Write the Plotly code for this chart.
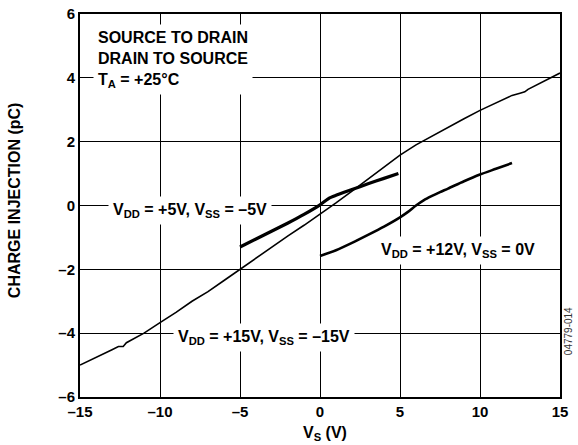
import plotly.graph_objects as go

# ---- data ----
vs_15 = [-15, -14, -13, -12.6, -12.3, -12.1, -11.5, -11, -10, -9, -8, -7, -6, -5, -4, -3, -2, -1,
         0, 1, 2, 3, 4, 5, 6, 7, 8, 9, 10, 11, 12, 12.5, 12.8, 13, 14, 15]
q_15 = [-5.0, -4.77, -4.52, -4.42, -4.42, -4.3, -4.15, -4.0, -3.67, -3.35, -3.0, -2.7, -2.35, -2.0,
        -1.63, -1.28, -0.95, -0.62, -0.28, 0.08, 0.45, 0.82, 1.2, 1.58, 1.9, 2.18, 2.44, 2.72,
        2.98, 3.22, 3.45, 3.52, 3.56, 3.64, 3.9, 4.15]

vs_5 = [-5, -4, -3, -2, -1, 0, 0.6, 1, 2, 3, 4, 4.9]
q_5 = [-1.3, -1.05, -0.8, -0.55, -0.28, 0.02, 0.24, 0.32, 0.5, 0.68, 0.85, 1.0]

vs_12 = [0, 1, 2, 3, 4, 5, 5.5, 6, 6.5, 7, 7.5, 8, 9, 10, 11, 12]
q_12 = [-1.58, -1.4, -1.17, -0.92, -0.66, -0.37, -0.2, 0.0, 0.17, 0.3, 0.42, 0.53, 0.76, 0.97, 1.15, 1.33]

x_ticks = [-15, -10, -5, 0, 5, 10, 15]
x_ticklabels = ["–15", "–10", "–5", "0", "5", "10", "15"]
y_ticks = [-6, -4, -2, 0, 2, 4, 6]
y_ticklabels = ["–6", "–4", "–2", "0", "2", "4", "6"]

FONT = "Arial, 'Liberation Sans', sans-serif"

fig = go.Figure()
fig.add_trace(go.Scatter(x=vs_15, y=q_15, mode="lines", line=dict(color="black", width=1.6)))
fig.add_trace(go.Scatter(x=vs_5, y=q_5, mode="lines",
                         line=dict(color="black", width=3.2, shape="spline", smoothing=0.5)))
fig.add_trace(go.Scatter(x=vs_12, y=q_12, mode="lines",
                         line=dict(color="black", width=2.6, shape="spline", smoothing=0.7)))

axis_common = dict(
    showgrid=True, gridcolor="black", gridwidth=1,
    showline=True, linecolor="black", linewidth=2, mirror=True, automargin=False,
    zeroline=False, ticks="", tickfont=dict(family=FONT, size=15, color="black", weight="bold"),
)
fig.update_xaxes(range=[-15, 15], tickvals=x_ticks, ticktext=x_ticklabels, **axis_common)
fig.update_yaxes(range=[-6, 6], tickvals=y_ticks, ticktext=y_ticklabels, **axis_common)

lab_font = dict(family=FONT, size=16, color="black", weight="bold")
annots = [
    dict(x=-14.2, y=5.7, xanchor="left", yanchor="top", align="left",
         text="SOURCE TO DRAIN<br>DRAIN TO SOURCE<br>T<sub>A</sub> = +25°C"),
    dict(x=-8.1, y=-0.15, xanchor="center", yanchor="middle",
         text="V<sub>DD</sub> = +5V, V<sub>SS</sub> = –5V"),
    dict(x=8.6, y=-1.4, xanchor="center", yanchor="middle",
         text="V<sub>DD</sub> = +12V, V<sub>SS</sub> = 0V"),
    dict(x=-3.5, y=-4.12, xanchor="center", yanchor="middle",
         text="V<sub>DD</sub> = +15V, V<sub>SS</sub> = –15V"),
]
for a in annots:
    fig.add_annotation(xref="x", yref="y", showarrow=False, bgcolor="white",
                       borderpad=4, font=lab_font, **a)

# axis titles
fig.add_annotation(xref="paper", yref="paper", x=-0.1375, y=0.514, showarrow=False,
                   textangle=-90, text="CHARGE INJECTION (pC)", font=lab_font,
                   xanchor="center", yanchor="middle")
fig.add_annotation(xref="paper", yref="paper", x=0.51, y=-0.095, showarrow=False,
                   text="V<sub>S</sub> (V)", font=lab_font, xanchor="center", yanchor="middle")
fig.add_annotation(xref="paper", yref="paper", x=1.0167, y=0.172, showarrow=False,
                   textangle=-90, text="04779-014",
                   font=dict(family=FONT, size=10, color="#333"),
                   xanchor="center", yanchor="middle")

fig.update_layout(
    width=578, height=445,
    margin=dict(l=80, r=18, t=14, b=48, autoexpand=False),
    paper_bgcolor="white", plot_bgcolor="white",
    showlegend=False,
)
fig.write_html("out.html")
